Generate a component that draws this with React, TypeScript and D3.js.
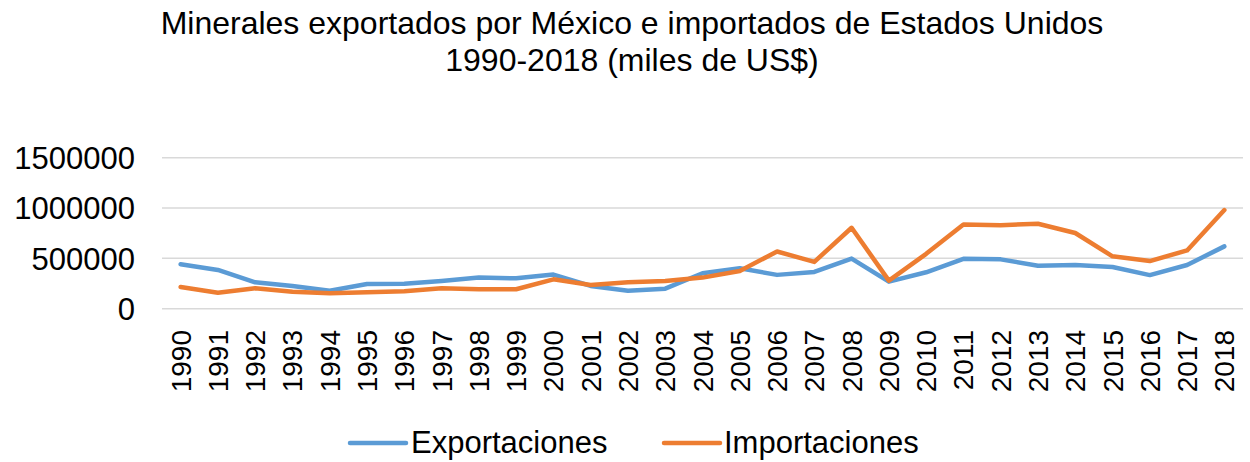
import React from "react";
import * as d3 from "d3";

const years: string[] = d3.range(1990, 2019).map(String);
const exportaciones: number[] = [442000, 385000, 262000, 226000, 179000, 246000, 249000, 276000, 309000, 302000, 339000, 226000, 179000, 199000, 352000, 402000, 336000, 365000, 498000, 269000, 362000, 495000, 490000, 427000, 434000, 414000, 334000, 434000, 619000];
const importaciones: number[] = [216000, 159000, 203000, 169000, 153000, 163000, 173000, 202000, 193000, 193000, 292000, 236000, 262000, 276000, 309000, 375000, 568000, 465000, 804000, 279000, 545000, 837000, 830000, 844000, 752000, 520000, 473000, 579000, 980000];
const yTicks: number[] = [0, 500000, 1000000, 1500000];
const seriesNames: string[] = ["Exportaciones", "Importaciones"];
const titleLines: string[] = ["Minerales exportados por México e importados de Estados Unidos", "1990-2018 (miles de US$)"];

const W = 1250, H = 462;
const FONT = "'Liberation Sans', Arial, sans-serif";
const colors = ["#5B9BD5", "#ED7D31"];

export default function App() {
  const x = d3.scaleBand<string>().domain(years).range([162, 1243]);
  const y = d3.scaleLinear().domain([0, 1500000]).range([308.7, 157.7]);
  const cx = (d: string) => (x(d) as number) + x.bandwidth() / 2;
  const line = d3.line<number>().x((_, i) => cx(years[i])).y((v) => y(v));
  const series = [exportaciones, importaciones];
  const legendX = [[350, 406, 411], [664, 720, 724]];

  return (
    <svg width={W} height={H} style={{ position: "absolute", left: 0, top: 0, background: "#fff" }} fontFamily={FONT}>
      <rect width={W} height={H} fill="#fff" />
      {titleLines.map((t, i) => (
        <text key={t} x={632} y={34 + i * 37} textAnchor="middle" fontSize={32} fill="#000">{t}</text>
      ))}
      {yTicks.map((t) => (
        <g key={t}>
          <line x1={162} x2={1243} y1={y(t)} y2={y(t)} stroke="#D9D9D9" strokeWidth={1.5} />
          <text x={135} y={y(t)} dy="0.36em" textAnchor="end" fontSize={31} fill="#000">{t}</text>
        </g>
      ))}
      {years.map((yr) => (
        <text key={yr} transform={`translate(${cx(yr) + 10},330) rotate(-90)`} textAnchor="end" fontSize={28} fill="#000">{yr}</text>
      ))}
      {series.map((s, i) => (
        <path key={i} d={line(s) as string} fill="none" stroke={colors[i]} strokeWidth={4.5} strokeLinejoin="round" strokeLinecap="round" />
      ))}
      {seriesNames.map((n, i) => (
        <g key={n}>
          <line x1={legendX[i][0]} x2={legendX[i][1]} y1={443} y2={443} stroke={colors[i]} strokeWidth={4.5} strokeLinecap="round" />
          <text x={legendX[i][2]} y={453} fontSize={31} fill="#000">{n}</text>
        </g>
      ))}
    </svg>
  );
}
